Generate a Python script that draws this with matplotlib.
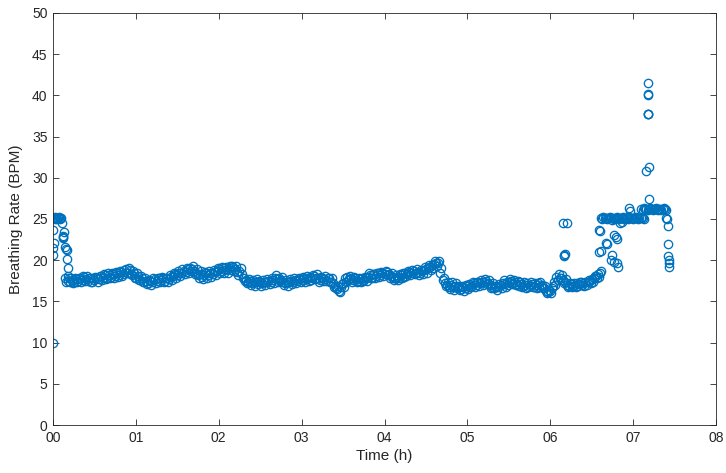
import numpy as np
import matplotlib
matplotlib.use("Agg")
import matplotlib.pyplot as plt

# ---------------- data ----------------
# main band, first sampling pass (hours, breaths per minute)
band_a_start = 0.15
band_a_step = 0.025
band_a_values = [
    17.9, 17.5, 17.3, 17.6, 17.4, 17.7, 17.5, 17.9, 17.6, 18.0,
    17.7, 17.5, 17.8, 17.4, 17.6, 17.9, 17.7, 18.1, 17.9, 18.2,
    17.9, 18.2, 18.0, 18.3, 18.1, 18.4, 18.2, 18.6, 18.3, 18.9,
    18.5, 18.8, 18.2, 18.4, 17.9, 18.1, 17.6, 17.8, 17.3, 17.5,
    17.2, 17.5, 17.3, 17.7, 17.5, 17.9, 17.6, 17.8, 17.5, 17.9,
    17.7, 18.0, 18.1, 18.3, 18.2, 18.5, 18.4, 18.7, 18.6, 18.9,
    19.1, 18.9, 18.7, 18.5, 18.2, 18.3, 18.0, 18.2, 18.4, 18.2,
    18.5, 18.3, 18.6, 18.7, 18.9, 18.7, 19.0, 18.8, 18.9, 19.0,
    18.8, 19.2, 18.9, 18.6, 18.7, 18.3, 17.9, 17.6, 17.3, 17.5,
    17.2, 17.4, 17.3, 17.1, 17.4, 17.2, 17.4, 17.3, 17.5, 17.4,
    17.6, 17.8, 17.7, 17.9, 17.6, 17.4, 17.2, 17.4, 17.3, 17.5,
    17.4, 17.6, 17.5, 17.7, 17.6, 17.8, 17.7, 17.9, 18.0, 17.8,
    18.1, 17.9, 17.8, 17.6, 17.9, 17.7, 17.5, 17.8, 17.4, 17.2,
    16.9, 16.5, 16.3, 16.7, 17.2, 17.8, 18.0, 17.7, 17.9, 17.6,
    17.8, 17.5, 17.7, 17.9, 17.6, 17.9, 18.0, 18.2, 17.9, 18.3,
    18.1, 18.4, 18.2, 18.5, 18.3, 18.6, 18.3, 18.1, 17.9, 17.8,
    18.0, 17.9, 18.2, 18.4, 18.5, 18.3, 18.6, 18.4, 18.7, 18.5,
    18.6, 18.4, 18.7, 18.8, 18.9, 19.0, 19.2, 19.4, 19.5, 19.7,
    19.6, 18.5, 17.6, 17.2, 17.0, 16.8, 17.0, 16.7, 16.9, 16.6,
    16.8, 16.5, 16.7, 16.6, 16.9, 17.1, 16.9, 17.2, 17.0, 17.3,
    17.2, 17.4, 17.3, 17.5, 17.2, 17.0, 16.8, 16.6, 16.8, 16.7,
    17.0, 17.2, 17.1, 17.4, 17.3, 17.5, 17.2, 17.4, 17.1, 16.9,
    17.1, 16.9, 17.0, 17.2, 16.9, 17.1, 16.8, 17.0, 17.2, 17.3,
    17.0, 16.6, 16.3, 16.1, 16.3, 16.6, 17.4, 18.0, 18.3, 17.9,
    17.6, 17.3, 17.0, 16.9, 17.1, 16.9, 17.0, 17.2, 17.1, 17.3,
    17.2, 17.4, 17.3, 17.5, 17.7, 17.8, 18.1, 18.3, 18.5,
]

# main band, second sampling pass (interleaved in time)
band_b_start = 0.1625
band_b_step = 0.025
band_b_values = [
    17.4, 17.9, 17.8, 17.2, 17.9, 17.3, 17.9, 17.4, 18.1, 17.5,
    18.1, 17.9, 17.3, 17.9, 18.0, 17.4, 18.1, 17.6, 18.3, 17.7,
    18.4, 17.8, 18.5, 17.9, 18.6, 18.0, 18.7, 18.1, 18.8, 18.5,
    19.0, 18.3, 18.7, 17.9, 18.4, 17.6, 18.1, 17.3, 17.8, 17.1,
    17.6, 17.0, 17.8, 17.2, 17.9, 17.4, 18.0, 17.3, 17.9, 17.4,
    18.2, 17.6, 18.5, 17.9, 18.7, 18.1, 18.9, 18.3, 19.1, 18.5,
    18.7, 19.3, 18.3, 18.9, 17.8, 18.7, 17.7, 18.6, 17.9, 18.7,
    18.0, 18.8, 18.2, 19.1, 18.4, 19.2, 18.5, 19.2, 18.5, 19.3,
    19.3, 18.7, 19.3, 18.2, 19.0, 17.9, 17.5, 17.2, 17.7, 17.0,
    17.6, 16.9, 17.7, 17.5, 16.9, 17.6, 17.0, 17.7, 17.1, 17.8,
    17.2, 18.2, 17.3, 17.5, 18.0, 17.0, 17.6, 16.9, 17.7, 17.1,
    17.8, 17.2, 17.9, 17.3, 18.0, 17.4, 18.1, 17.5, 17.6, 18.2,
    17.7, 18.3, 17.4, 18.0, 17.5, 18.1, 17.9, 17.3, 17.8, 16.8,
    16.6, 16.9, 16.1, 17.1, 16.8, 17.4, 17.6, 18.1, 17.4, 18.0,
    17.4, 17.9, 17.3, 17.5, 18.0, 17.5, 18.4, 17.8, 18.3, 17.9,
    18.5, 18.0, 18.6, 18.1, 18.7, 18.2, 17.9, 18.5, 17.6, 18.2,
    17.6, 18.3, 17.8, 18.0, 18.1, 18.7, 18.2, 18.8, 18.3, 18.9,
    18.2, 18.8, 18.3, 19.2, 18.5, 19.4, 18.8, 19.0, 19.9, 19.3,
    19.9, 19.0, 17.9, 16.9, 17.3, 16.5, 17.3, 16.4, 17.2, 16.9,
    16.4, 16.9, 16.3, 17.0, 16.5, 16.8, 17.3, 16.8, 17.4, 16.9,
    17.6, 17.0, 17.7, 17.1, 17.6, 16.6, 17.2, 16.9, 16.4, 17.1,
    16.6, 17.6, 16.8, 17.0, 17.7, 17.1, 17.6, 17.0, 17.5, 17.3,
    16.7, 17.3, 16.6, 16.8, 17.3, 16.7, 17.2, 16.6, 16.8, 16.9,
    16.6, 16.9, 16.0, 16.4, 16.0, 16.9, 17.0, 17.6, 17.9, 18.2,
    17.2, 17.7, 16.7, 17.2, 16.8, 17.2, 16.7, 16.9, 17.4, 17.0,
    16.9, 17.0, 17.6, 17.2, 17.4, 18.1, 17.8, 18.0, 18.7,
]

# lower plateau near 25 BPM
plat1_start = 6.61
plat1_step = 0.015
plat1_values = [
    25.1, 25.0, 25.2, 25.1, 25.1, 25.0, 25.1, 25.2, 25.1, 24.9,
    25.1, 25.0, 25.1, 25.2, 25.1, 25.0, 25.1, 25.1, 25.2, 25.0,
    25.1, 25.1, 25.0, 25.2, 25.1, 25.1, 25.0, 25.1, 25.2, 25.1,
    25.0, 25.1, 25.1, 25.2, 25.1, 25.0,
]

# upper plateau near 26 BPM
plat2_start = 7.10
plat2_step = 0.015
plat2_values = [
    26.2, 26.1, 26.3, 26.2, 26.2, 26.1, 26.2, 26.3, 26.2, 26.1,
    26.2, 26.2, 26.3, 26.1, 26.2, 26.2, 26.1, 26.2, 26.3, 26.2, 26.1,
]

# scattered start-up readings
early_t = [0.00, 0.00, 0.005, 0.01, 0.005, 0.01, 0.02, 0.03, 0.04, 0.05,
           0.06, 0.07, 0.08, 0.09, 0.10, 0.11, 0.13, 0.12, 0.12, 0.125,
           0.15, 0.155, 0.17, 0.17, 0.18, 0.18]
early_v = [10.0, 20.6, 21.5, 22.1, 23.7, 25.1, 25.0, 25.2, 25.1, 25.0,
           25.1, 25.2, 25.1, 25.0, 25.1, 24.5, 23.4, 22.9, 22.7, 22.8,
           21.6, 21.4, 21.2, 20.2, 19.0, 18.1]

# scattered readings near the end
late_t = [6.15, 6.20, 6.16, 6.17, 6.18,
          6.59, 6.60, 6.67, 6.68, 6.59, 6.61,
          6.77, 6.79, 6.80, 6.75, 6.73, 6.77, 6.82, 6.80,
          6.95, 6.96, 6.84, 6.87,
          7.15, 7.19, 7.18, 7.18, 7.185, 7.18, 7.185, 7.18, 7.19,
          7.40, 7.41, 7.42, 7.42, 7.42, 7.43, 7.43, 7.43]
late_v = [24.5, 24.5, 20.6, 20.5, 20.7,
          23.7, 23.6, 22.1, 22.0, 21.0, 21.1,
          23.0, 22.8, 22.6, 20.6, 20.0, 19.8, 19.2, 19.6,
          26.3, 26.0, 24.5, 24.6,
          30.8, 31.3, 37.7, 37.8, 37.7, 40.1, 40.2, 41.5, 27.4,
          25.1, 25.0, 24.1, 22.0, 20.5, 20.0, 19.6, 19.2]

x_ticks = [0, 1, 2, 3, 4, 5, 6, 7, 8]
x_tick_labels = ["00", "01", "02", "03", "04", "05", "06", "07", "08"]
y_ticks = [0, 5, 10, 15, 20, 25, 30, 35, 40, 45, 50]

# ---------------- build series ----------------
band_a_t = band_a_start + band_a_step * np.arange(len(band_a_values))
band_b_t = band_b_start + band_b_step * np.arange(len(band_b_values))
plat1_t = plat1_start + plat1_step * np.arange(len(plat1_values))
plat2_t = plat2_start + plat2_step * np.arange(len(plat2_values))

t_all = np.concatenate([early_t, band_a_t, band_b_t, late_t, plat1_t, plat2_t])
v_all = np.concatenate([early_v, band_a_values, band_b_values, late_v,
                        plat1_values, plat2_values])

# ---------------- plot ----------------
plt.rcParams['font.family'] = ['Liberation Sans', 'DejaVu Sans']
axc = '#262626'
blue = '#0072BD'

fig = plt.figure(figsize=(7.26, 4.73), dpi=100)
ax = fig.add_axes([53 / 726, 48 / 473, (716 - 53) / 726, (425 - 13) / 473])

ax.plot(t_all, v_all, linestyle='none', marker='o', markersize=6.0,
        markerfacecolor='none', markeredgecolor=blue, markeredgewidth=0.95)

ax.set_xlim(0, 8)
ax.set_ylim(0, 50)
ax.set_xticks(x_ticks)
ax.set_xticklabels(x_tick_labels)
ax.set_yticks(y_ticks)

for s in ax.spines.values():
    s.set_color(axc)
    s.set_linewidth(0.6)

ax.tick_params(axis='both', direction='in', length=4.5, width=0.6,
               colors=axc, labelsize=10, top=True, right=True, pad=4)

ax.set_xlabel('Time (h)', fontsize=11, color=axc, labelpad=3)
ax.set_ylabel('Breathing Rate (BPM)', fontsize=11, color=axc, labelpad=6)

fig.savefig('out.png', dpi=100)
